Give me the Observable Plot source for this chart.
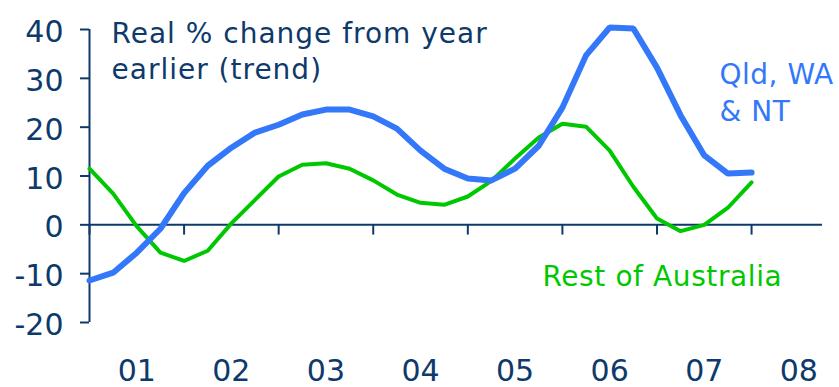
<!DOCTYPE html>
<html>
<head>
<meta charset="utf-8">
<script src="https://cdn.jsdelivr.net/npm/d3@7"></script>
<script src="https://cdn.jsdelivr.net/npm/@observablehq/plot@0.6"></script>
<style>
  html, body { margin: 0; padding: 0; background: #ffffff; }
</style>
</head>
<body>
<div id="chart"></div>
<script>
const quarters = [
  "2001Q1","2001Q2","2001Q3","2001Q4",
  "2002Q1","2002Q2","2002Q3","2002Q4",
  "2003Q1","2003Q2","2003Q3","2003Q4",
  "2004Q1","2004Q2","2004Q3","2004Q4",
  "2005Q1","2005Q2","2005Q3","2005Q4",
  "2006Q1","2006Q2","2006Q3","2006Q4",
  "2007Q1","2007Q2","2007Q3","2007Q4",
  "2008Q1"
];
const qldWaNt = [
  -11.4, -9.8, -5.7, -0.8,
  6.5, 12.1, 15.8, 18.9,
  20.5, 22.6, 23.6, 23.6,
  22.2, 19.7, 15.2, 11.5,
  9.5, 9.1, 11.5, 16.2,
  24.0, 34.7, 40.4, 40.2,
  32.2, 22.4, 14.2, 10.5,
  10.7
];
const restOfAustralia = [
  11.5, 6.4, -0.3, -5.7,
  -7.4, -5.3, 0.3, 5.1,
  9.9, 12.3, 12.6, 11.5,
  9.1, 6.2, 4.5, 4.1,
  5.8, 9.0, 13.6, 17.9,
  20.7, 20.1, 15.2, 7.8,
  1.3, -1.3, 0.0, 3.5,
  8.7
];
const yearTicks = [2001, 2002, 2003, 2004, 2005, 2006, 2007, 2008];
const yearLabels = ["01", "02", "03", "04", "05", "06", "07", "08"];
const yTicks = [-20, -10, 0, 10, 20, 30, 40];
const titleText = "Real % change from year\nearlier (trend)";
const seriesNames = ["Qld, WA\n& NT", "Rest of Australia"];

const navy = "#0e3a6b";
const blue = "#3478fa";
const green = "#00c800";
const font = "DejaVu Sans, Verdana, sans-serif";

const toX = q => +q.slice(0, 4) + (+q.slice(5) - 1) / 4;
const qRows = quarters.map((q, i) => ({x: toX(q), v: qldWaNt[i]}));
const rRows = quarters.map((q, i) => ({x: toX(q), v: restOfAustralia[i]}));
const labelPos = yearTicks.map(y => y + 0.5);

const chart = Plot.plot({
  width: 839,
  height: 387,
  marginLeft: 89,
  marginRight: 17,
  marginTop: 29,
  marginBottom: 65,
  style: {fontFamily: font, color: navy, background: "#ffffff", overflow: "visible"},
  x: {domain: [2001, 2008.75]},
  y: {domain: [-20, 40]},
  marks: [
    Plot.axisY({
      ticks: yTicks, tickSize: 9, text: null, label: null, stroke: navy, strokeWidth: 2
    }),
    Plot.axisY({
      ticks: yTicks, tickSize: 0, tickPadding: 26, fontSize: 30, dy: 3,
      tickFormat: d => String(d), label: null, fill: navy
    }),
    Plot.axisX({
      anchor: "bottom", ticks: labelPos, tickFormat: (d, i) => yearLabels[i],
      tickSize: 0, tickPadding: 37, fontSize: 30, label: null, fill: navy
    }),
    Plot.ruleX([yearTicks[0]], {y1: yTicks[0], y2: yTicks[yTicks.length - 1], stroke: navy, strokeWidth: 2}),
    Plot.ruleY([0], {stroke: navy, strokeWidth: 2}),
    Plot.ruleX(yearTicks, {y1: 0, y2: -2.1, stroke: navy, strokeWidth: 2}),
    Plot.line(rRows, {x: "x", y: "v", stroke: green, strokeWidth: 4, strokeLinejoin: "miter"}),
    Plot.line(qRows, {x: "x", y: "v", stroke: blue, strokeWidth: 6, strokeLinejoin: "miter"}),
    Plot.text([titleText], {
      frameAnchor: "top-left", dx: 22, dy: -13, lineAnchor: "top", textAnchor: "start",
      fontSize: 28, lineHeight: 1.31, fill: navy
    }),
    Plot.text([seriesNames[0]], {
      frameAnchor: "top-left", dx: 630, dy: 28, lineAnchor: "top", textAnchor: "start",
      fontSize: 28, lineHeight: 1.33, fill: blue
    }),
    Plot.text([seriesNames[1]], {
      frameAnchor: "top-left", dx: 453, dy: 237, lineAnchor: "top", textAnchor: "start",
      fontSize: 28, fill: green
    })
  ]
});
const spacings = ["1px", "0.5px", "0.6px"];
d3.select(chart).selectAll('g[aria-label="text"]').each(function(d, i) {
  d3.select(this).selectAll("text").style("letter-spacing", spacings[i] || "0px");
});
document.getElementById("chart").appendChild(chart);
</script>
</body>
</html>
